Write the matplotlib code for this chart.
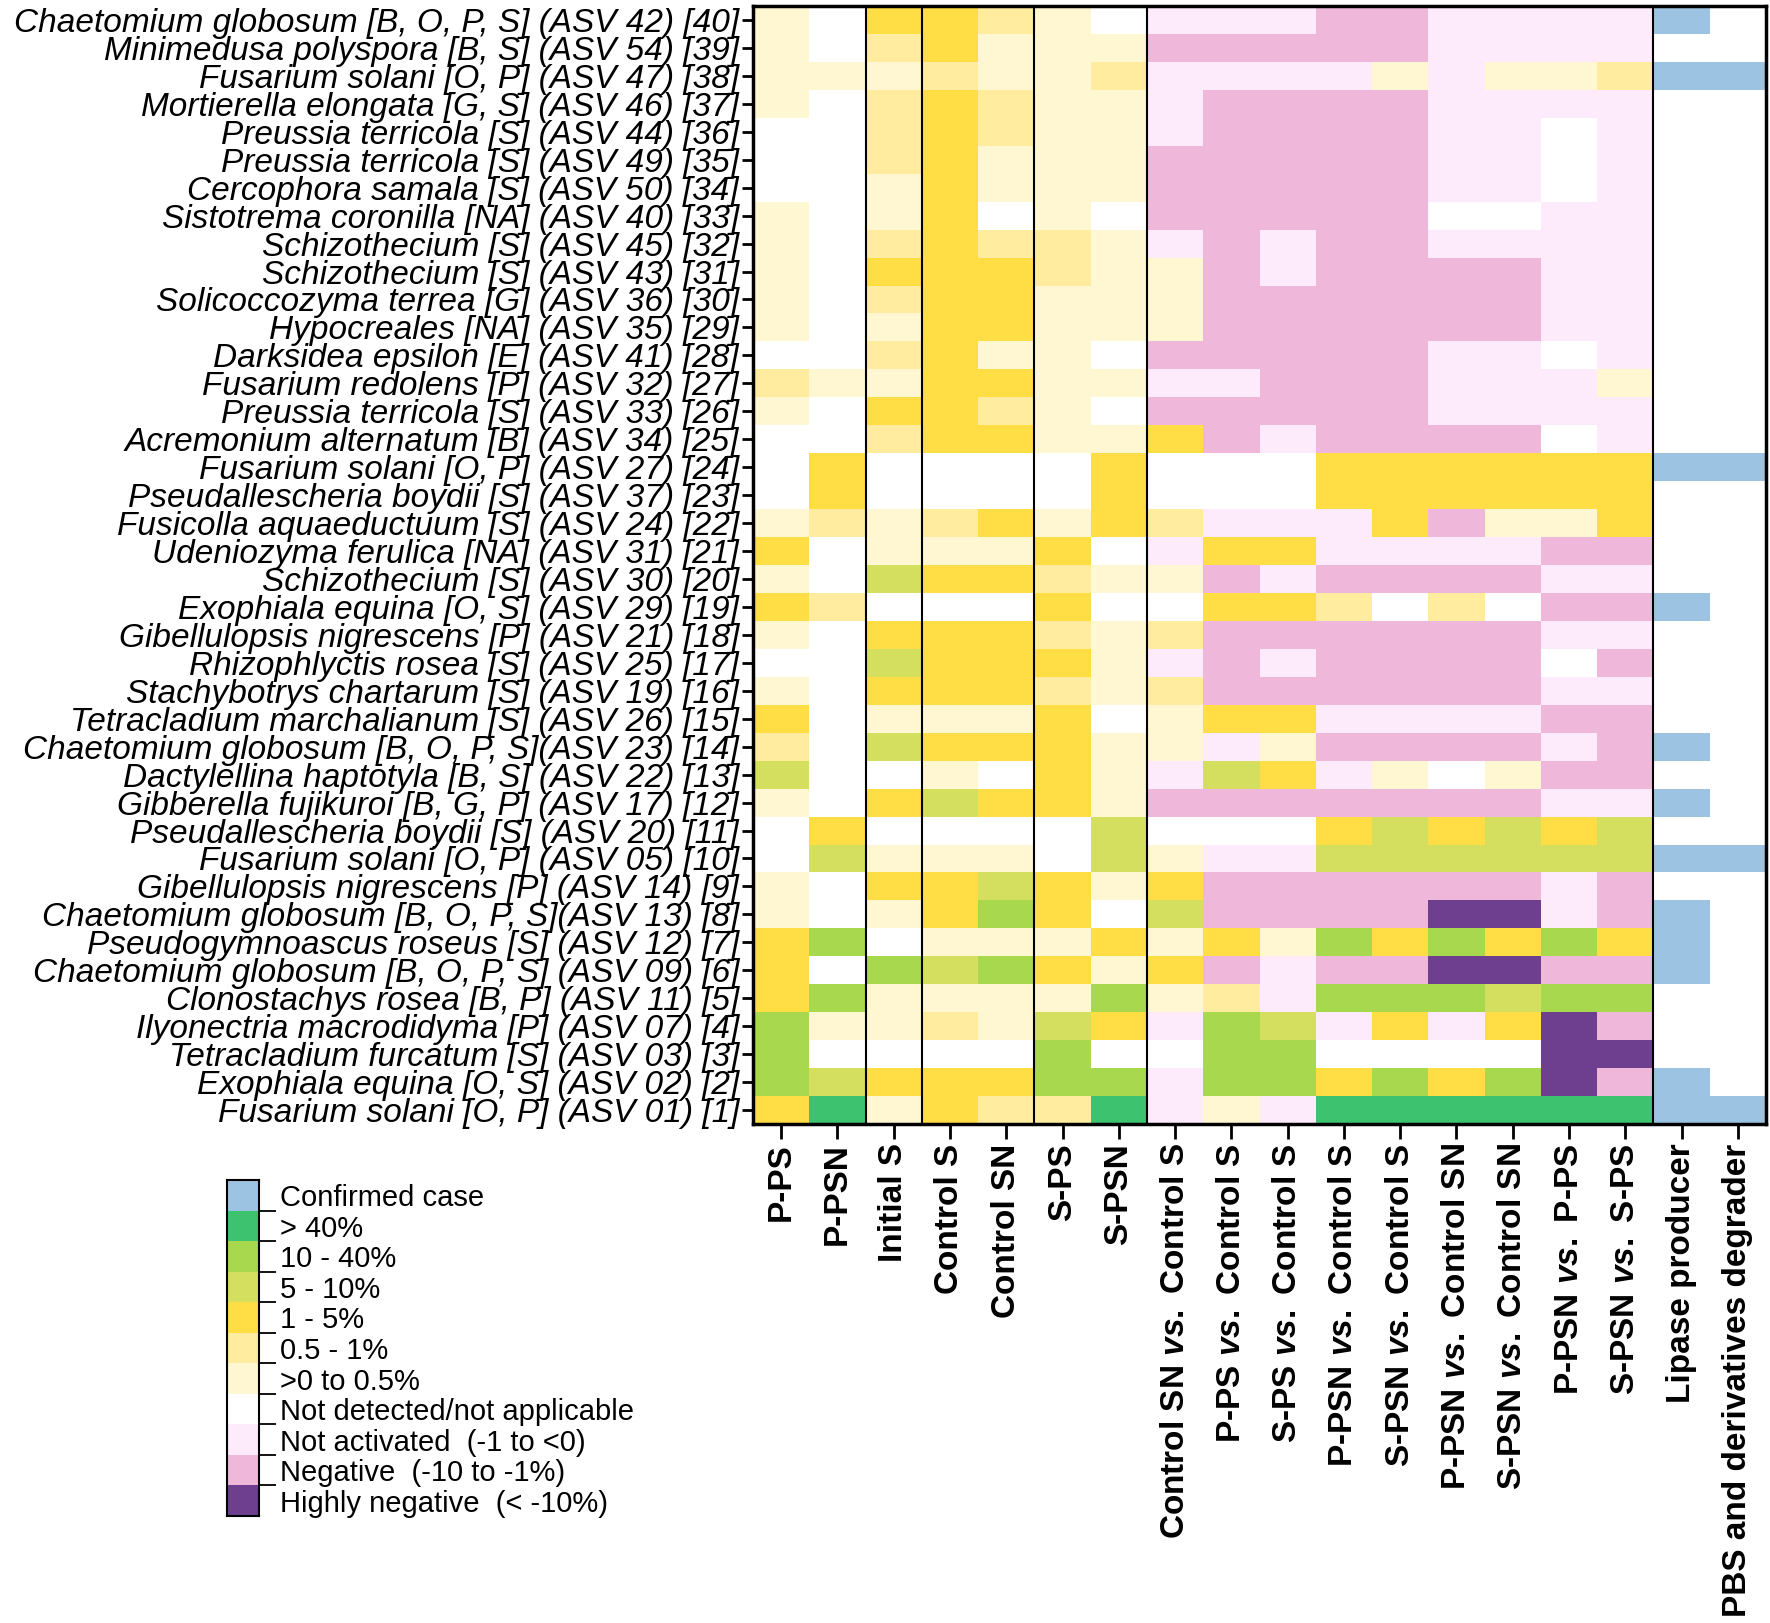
import numpy as np
import matplotlib
matplotlib.use("Agg")
import matplotlib.pyplot as plt
from matplotlib.colors import ListedColormap, BoundaryNorm

plt.rcParams['font.family'] = ['Liberation Sans', 'DejaVu Sans']
plt.rcParams['mathtext.fontset'] = 'custom'
plt.rcParams['mathtext.it'] = 'Liberation Sans:bold:italic'
plt.rcParams['mathtext.rm'] = 'Liberation Sans:bold'

# category codes: -3 highly negative, -2 negative, -1 not activated, 0 not detected,
# 1 >0-0.5%, 2 0.5-1%, 3 1-5%, 4 5-10%, 5 10-40%, 6 >40%, 7 confirmed case
legend_labels = ["Highly negative  (< -10%)", "Negative  (-10 to -1%)", "Not activated  (-1 to <0)",
                 "Not detected/not applicable", ">0 to 0.5%", "0.5 - 1%", "1 - 5%", "5 - 10%",
                 "10 - 40%", "> 40%", "Confirmed case"]
legend_colors = ["#6D3F8E", "#EFB8DA", "#FDEBFB", "#FFFFFF", "#FFF6D2", "#FFEC9F",
                 "#FFDE45", "#D4DF5F", "#A8D84E", "#3DC26F", "#9DC3E3"]

row_labels = [
    "Chaetomium globosum [B, O, P, S] (ASV 42) [40]",
    "Minimedusa polyspora [B, S] (ASV 54) [39]",
    "Fusarium solani [O, P] (ASV 47) [38]",
    "Mortierella elongata [G, S] (ASV 46) [37]",
    "Preussia terricola [S] (ASV 44) [36]",
    "Preussia terricola [S] (ASV 49) [35]",
    "Cercophora samala [S] (ASV 50) [34]",
    "Sistotrema coronilla [NA] (ASV 40) [33]",
    "Schizothecium [S] (ASV 45) [32]",
    "Schizothecium [S] (ASV 43) [31]",
    "Solicoccozyma terrea [G] (ASV 36) [30]",
    "Hypocreales [NA] (ASV 35) [29]",
    "Darksidea epsilon [E] (ASV 41) [28]",
    "Fusarium redolens [P] (ASV 32) [27]",
    "Preussia terricola [S] (ASV 33) [26]",
    "Acremonium alternatum [B] (ASV 34) [25]",
    "Fusarium solani [O, P] (ASV 27) [24]",
    "Pseudallescheria boydii [S] (ASV 37) [23]",
    "Fusicolla aquaeductuum [S] (ASV 24) [22]",
    "Udeniozyma ferulica [NA] (ASV 31) [21]",
    "Schizothecium [S] (ASV 30) [20]",
    "Exophiala equina [O, S] (ASV 29) [19]",
    "Gibellulopsis nigrescens [P] (ASV 21) [18]",
    "Rhizophlyctis rosea [S] (ASV 25) [17]",
    "Stachybotrys chartarum [S] (ASV 19) [16]",
    "Tetracladium marchalianum [S] (ASV 26) [15]",
    "Chaetomium globosum [B, O, P, S](ASV 23) [14]",
    "Dactylellina haptotyla [B, S] (ASV 22) [13]",
    "Gibberella fujikuroi [B, G, P] (ASV 17) [12]",
    "Pseudallescheria boydii [S] (ASV 20) [11]",
    "Fusarium solani [O, P] (ASV 05) [10]",
    "Gibellulopsis nigrescens [P] (ASV 14) [9]",
    "Chaetomium globosum [B, O, P, S](ASV 13) [8]",
    "Pseudogymnoascus roseus [S] (ASV 12) [7]",
    "Chaetomium globosum [B, O, P, S] (ASV 09) [6]",
    "Clonostachys rosea [B, P] (ASV 11) [5]",
    "Ilyonectria macrodidyma [P] (ASV 07) [4]",
    "Tetracladium furcatum [S] (ASV 03) [3]",
    "Exophiala equina [O, S] (ASV 02) [2]",
    "Fusarium solani [O, P] (ASV 01) [1]",
]

col_labels = ["P-PS", "P-PSN", "Initial S", "Control S", "Control SN", "S-PS", "S-PSN",
              "Control SN $\\mathit{vs.}$ Control S", "P-PS $\\mathit{vs.}$ Control S",
              "S-PS $\\mathit{vs.}$ Control S", "P-PSN $\\mathit{vs.}$ Control S",
              "S-PSN $\\mathit{vs.}$ Control S", "P-PSN $\\mathit{vs.}$ Control SN",
              "S-PSN $\\mathit{vs.}$ Control SN", "P-PSN $\\mathit{vs.}$ P-PS",
              "S-PSN $\\mathit{vs.}$ S-PS", "Lipase producer", "PBS and derivatives degrader"]

# relative abundance: P-PS, P-PSN, Initial S, Control S, Control SN, S-PS, S-PSN
abundance = [
    [1, 0, 3, 3, 2, 1, 0], [1, 0, 2, 3, 1, 1, 1], [1, 1, 1, 2, 1, 1, 2], [1, 0, 2, 3, 2, 1, 1],
    [0, 0, 2, 3, 2, 1, 1], [0, 0, 2, 3, 1, 1, 1], [0, 0, 1, 3, 1, 1, 1], [1, 0, 1, 3, 0, 1, 0],
    [1, 0, 2, 3, 2, 2, 1], [1, 0, 3, 3, 3, 2, 1], [1, 0, 2, 3, 3, 1, 1], [1, 0, 1, 3, 3, 1, 1],
    [0, 0, 2, 3, 1, 1, 0], [2, 1, 1, 3, 3, 1, 1], [1, 0, 3, 3, 2, 1, 0], [0, 0, 2, 3, 3, 1, 1],
    [0, 3, 0, 0, 0, 0, 3], [0, 3, 0, 0, 0, 0, 3], [1, 2, 1, 2, 3, 1, 3], [3, 0, 1, 1, 1, 3, 0],
    [1, 0, 4, 3, 3, 2, 1], [3, 2, 0, 0, 0, 3, 0], [1, 0, 3, 3, 3, 2, 1], [0, 0, 4, 3, 3, 3, 1],
    [1, 0, 3, 3, 3, 2, 1], [3, 0, 1, 1, 1, 3, 0], [2, 0, 4, 3, 3, 3, 1], [4, 0, 0, 1, 0, 3, 1],
    [1, 0, 3, 4, 3, 3, 1], [0, 3, 0, 0, 0, 0, 4], [0, 4, 1, 1, 1, 0, 4], [1, 0, 3, 3, 4, 3, 1],
    [1, 0, 1, 3, 5, 3, 0], [3, 5, 0, 1, 1, 1, 3], [3, 0, 5, 4, 5, 3, 1], [3, 5, 1, 1, 1, 1, 5],
    [5, 1, 1, 2, 1, 4, 3], [5, 0, 0, 0, 0, 5, 0], [5, 4, 3, 3, 3, 5, 5], [3, 6, 1, 3, 2, 2, 6],
]

# activation comparisons (9 columns)
comparisons = [
    [-1, -1, -1, -2, -2, -1, -1, -1, -1], [-2, -2, -2, -2, -2, -1, -1, -1, -1],
    [-1, -1, -1, -1, 1, -1, 1, 1, 2], [-1, -2, -2, -2, -2, -1, -1, -1, -1],
    [-1, -2, -2, -2, -2, -1, -1, 0, -1], [-2, -2, -2, -2, -2, -1, -1, 0, -1],
    [-2, -2, -2, -2, -2, -1, -1, 0, -1], [-2, -2, -2, -2, -2, 0, 0, -1, -1],
    [-1, -2, -1, -2, -2, -1, -1, -1, -1], [1, -2, -1, -2, -2, -2, -2, -1, -1],
    [1, -2, -2, -2, -2, -2, -2, -1, -1], [1, -2, -2, -2, -2, -2, -2, -1, -1],
    [-2, -2, -2, -2, -2, -1, -1, 0, -1], [-1, -1, -2, -2, -2, -1, -1, -1, 1],
    [-2, -2, -2, -2, -2, -1, -1, -1, -1], [3, -2, -1, -2, -2, -2, -2, 0, -1],
    [0, 0, 0, 3, 3, 3, 3, 3, 3], [0, 0, 0, 3, 3, 3, 3, 3, 3],
    [2, -1, -1, -1, 3, -2, 1, 1, 3], [-1, 3, 3, -1, -1, -1, -1, -2, -2],
    [1, -2, -1, -2, -2, -2, -2, -1, -1], [0, 3, 3, 2, 0, 2, 0, -2, -2],
    [2, -2, -2, -2, -2, -2, -2, -1, -1], [-1, -2, -1, -2, -2, -2, -2, 0, -2],
    [2, -2, -2, -2, -2, -2, -2, -1, -1], [1, 3, 3, -1, -1, -1, -1, -2, -2],
    [1, -1, 1, -2, -2, -2, -2, -1, -2], [-1, 4, 3, -1, 1, 0, 1, -2, -2],
    [-2, -2, -2, -2, -2, -2, -2, -1, -1], [0, 0, 0, 3, 4, 3, 4, 3, 4],
    [1, -1, -1, 4, 4, 4, 4, 4, 4], [3, -2, -2, -2, -2, -2, -2, -1, -2],
    [4, -2, -2, -2, -2, -3, -3, -1, -2], [1, 3, 1, 5, 3, 5, 3, 5, 3],
    [3, -2, -1, -2, -2, -3, -3, -2, -2], [1, 2, -1, 5, 5, 5, 4, 5, 5],
    [-1, 5, 4, -1, 3, -1, 3, -3, -2], [0, 5, 5, 0, 0, 0, 0, -3, -3],
    [-1, 5, 5, 3, 5, 3, 5, -3, -2], [-1, 1, -1, 6, 6, 6, 6, 6, 6],
]

# functional traits: lipase producer, PBS degrader (1 = confirmed)
lipase = [1, 0, 1, 0, 0, 0, 0, 0, 0, 0, 0, 0, 0, 0, 0, 0, 1, 0, 0, 0,
          0, 1, 0, 0, 0, 0, 1, 0, 1, 0, 1, 0, 1, 1, 1, 0, 0, 0, 1, 1]
pbs_degrader = [0, 0, 1, 0, 0, 0, 0, 0, 0, 0, 0, 0, 0, 0, 0, 0, 1, 0, 0, 0,
                0, 0, 0, 0, 0, 0, 0, 0, 0, 0, 1, 0, 0, 0, 0, 0, 0, 0, 0, 1]

func = np.column_stack([lipase, pbs_degrader]) * 7
data = np.hstack([np.array(abundance), np.array(comparisons), func])
nrow, ncol = data.shape

cmap = ListedColormap(legend_colors)
norm = BoundaryNorm(np.arange(-3.5, 8.5, 1), cmap.N)

fig = plt.figure(figsize=(17.7, 16.23), dpi=100)
ax = fig.add_axes([753 / 1770, 1 - 1124 / 1623, 1013 / 1770, 1118 / 1623])
ax.pcolormesh(np.arange(ncol + 1), np.arange(nrow + 1), data, cmap=cmap, norm=norm)
ax.set_xlim(0, ncol)
ax.set_ylim(nrow, 0)
for xv in [2, 3, 5, 7, 16]:
    ax.axvline(xv, color="black", lw=1.5)
for s in ax.spines.values():
    s.set_linewidth(2.5)

ax.set_yticks(np.arange(nrow) + 0.5)
ax.set_yticklabels(row_labels, fontsize=24, fontstyle="italic")
ax.set_xticks(np.arange(ncol) + 0.5)
ax.set_xticklabels(col_labels, rotation=90, fontsize=24, fontweight="bold", va="top")
ax.tick_params(axis="y", length=8, width=2, pad=2)
ax.tick_params(axis="x", length=11, width=2, pad=3)

# legend as a stacked colour key
lax = fig.add_axes([227 / 1770, 1 - 1516 / 1623, 32 / 1770, 336 / 1623])
n = len(legend_colors)
lax.pcolormesh([0, 1], np.arange(n + 1), np.arange(n)[:, None], cmap=cmap,
               norm=BoundaryNorm(np.arange(-0.5, n + 0.5, 1), n))
lax.set_xlim(0, 1)
lax.set_ylim(0, n)
lax.set_xticks([])
lax.yaxis.tick_right()
lax.set_yticks(np.arange(1, n))
lax.set_yticklabels([])
lax.set_yticks(np.arange(n) + 0.5, minor=True)
lax.set_yticklabels(legend_labels, minor=True, fontsize=21)
lax.tick_params(axis="y", which="major", length=12, width=1.3)
lax.tick_params(axis="y", which="minor", length=0, pad=15)
for s in lax.spines.values():
    s.set_linewidth(1.5)

fig.savefig("out.png", dpi=100)
